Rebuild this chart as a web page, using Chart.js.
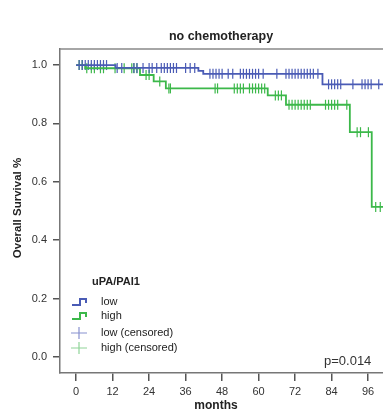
<!DOCTYPE html>
<html>
<head>
<meta charset="utf-8">
<script src="https://cdn.jsdelivr.net/npm/chart.js@4"></script>
<style>
  body { margin: 0; background: #fff; overflow: hidden; }
</style>
</head>
<body>
<canvas id="kmChart" width="383" height="409"></canvas>
<script>
// Kaplan-Meier steps (months, survival fraction)
const lowTimes = [0, 13, 40.2, 41.8, 81, 101];
const lowSurvival = [1.0, 0.990, 0.980, 0.970, 0.934, 0.934];
const highTimes = [0, 3, 21, 25.5, 29.5, 63, 69, 90, 97.2, 101];
const highSurvival = [1.0, 0.989, 0.966, 0.944, 0.920, 0.896, 0.864, 0.770, 0.514, 0.514];

// censored cases (months)
const lowCensored = [1, 2, 3, 4, 5, 6, 7, 8, 9, 10, 13.5, 15, 19, 20, 22, 24, 25, 26.5,
  28, 29, 30, 31, 32, 33, 36, 37.5, 39, 44, 45, 46, 47, 48, 50, 51.5, 54, 55, 56, 57, 58,
  59, 60, 61.5, 66, 69, 70, 71, 72, 73, 74, 75, 76, 77, 78, 79.5, 83, 84, 85, 86, 87, 91,
  94, 95, 96, 97, 99.5];
const highCensored = [1, 2, 3.5, 5, 6, 8, 9, 12.8, 15.8, 18.3, 19, 20, 23, 24, 27.5, 30.5, 31,
  45.7, 46.5, 52, 53, 54, 55, 57, 58, 59, 60, 61, 62, 65.5, 66.5, 67.5, 70, 71, 72, 73, 74,
  75, 76, 77, 82, 83, 84, 85, 86, 89, 92.4, 93.5, 96.1, 98.5, 100];

const xTickValues = [0, 12, 24, 36, 48, 60, 72, 84, 96];
const yTickValues = [0.0, 0.2, 0.4, 0.6, 0.8, 1.0];

const blue = '#4a5bb5';
const green = '#3cb84a';
const font = 'Liberation Sans, Arial, sans-serif';

// survival at time t for a step curve
function survivalAt(times, surv, t) {
    let s = surv[0];
    for (let i = 0; i < times.length; i++) {
        if (times[i] <= t) s = surv[i];
    }
    return s;
}

const lowSteps = lowTimes.map((t, i) => ({ x: t, y: lowSurvival[i] }));
const highSteps = highTimes.map((t, i) => ({ x: t, y: highSurvival[i] }));
const lowMarks = lowCensored.map(t => ({ x: t, y: survivalAt(lowTimes, lowSurvival, t) }));
const highMarks = highCensored.map(t => ({ x: t, y: survivalAt(highTimes, highSurvival, t) }));

// title, axis titles, legend box, p-value and top frame line
const decorations = {
    id: 'decorations',
    afterDraw(chart) {
        const ctx = chart.ctx;
        const area = chart.chartArea;
        ctx.save();

        ctx.strokeStyle = '#888';
        ctx.lineWidth = 1.5;
        ctx.beginPath();
        ctx.moveTo(area.left, area.top);
        ctx.lineTo(chart.width, area.top);
        ctx.stroke();

        ctx.fillStyle = '#222';
        ctx.textBaseline = 'middle';
        ctx.textAlign = 'center';
        ctx.font = 'bold 12.5px ' + font;
        ctx.fillText('no chemotherapy', 221, 37);

        ctx.font = 'bold 12px ' + font;
        ctx.fillText('months', 216, 406);

        ctx.save();
        ctx.translate(18, 208);
        ctx.rotate(-Math.PI / 2);
        ctx.font = 'bold 11.5px ' + font;
        ctx.fillText('Overall Survival %', 0, 0);
        ctx.restore();

        // legend
        ctx.textAlign = 'left';
        ctx.font = 'bold 11px ' + font;
        ctx.fillText('uPA/PAI1', 92, 282);

        ctx.font = '11px ' + font;
        const items = [
            { label: 'low', color: blue, y: 302, step: true },
            { label: 'high', color: green, y: 316, step: true },
            { label: 'low (censored)', color: '#8891cf', y: 333, step: false },
            { label: 'high (censored)', color: '#8fd498', y: 348, step: false }
        ];
        items.forEach(it => {
            ctx.strokeStyle = it.color;
            ctx.beginPath();
            if (it.step) {
                ctx.lineWidth = 2;
                ctx.moveTo(72, it.y + 3);
                ctx.lineTo(80, it.y + 3);
                ctx.lineTo(80, it.y - 3);
                ctx.lineTo(86, it.y - 3);
                ctx.lineTo(86, it.y + 1);
            } else {
                ctx.lineWidth = 1.2;
                ctx.moveTo(71, it.y);
                ctx.lineTo(87, it.y);
                ctx.moveTo(79, it.y - 6);
                ctx.lineTo(79, it.y + 6);
            }
            ctx.stroke();
            ctx.fillStyle = '#222';
            ctx.fillText(it.label, 101, it.y);
        });

        ctx.font = '13px ' + font;
        ctx.fillStyle = '#333';
        ctx.fillText('p=0.014', 324, 361);
        ctx.restore();
    }
};

const ctx = document.getElementById('kmChart').getContext('2d');

new Chart(ctx, {
    type: 'line',
    data: {
        datasets: [
            { data: lowSteps, borderColor: blue, borderWidth: 1.8, stepped: true, pointRadius: 0, fill: false },
            { data: highSteps, borderColor: green, borderWidth: 1.8, stepped: true, pointRadius: 0, fill: false },
            { data: lowMarks, showLine: false, pointStyle: 'line', rotation: 90, pointRadius: 5,
              borderColor: blue, borderWidth: 1.2 },
            { data: highMarks, showLine: false, pointStyle: 'line', rotation: 90, pointRadius: 5,
              borderColor: green, borderWidth: 1.2 }
        ]
    },
    options: {
        responsive: false,
        animation: false,
        events: [],
        layout: { autoPadding: false, padding: { top: 49, left: 0, right: 0, bottom: 0 } },
        plugins: {
            legend: { display: false },
            title: { display: false },
            tooltip: { enabled: false }
        },
        scales: {
            x: {
                type: 'linear',
                min: -5.3,
                max: 100.9,
                afterFit: scale => { scale.height = 36; },
                afterBuildTicks: scale => { scale.ticks = xTickValues.map(v => ({ value: v })); },
                grid: { drawOnChartArea: false, drawTicks: true, tickLength: 8, color: '#555', lineWidth: 1.5 },
                border: { display: true, color: '#777', width: 1.5 },
                ticks: { padding: 4, color: '#333', font: { family: font, size: 11 }, maxRotation: 0,
                         callback: v => String(v) }
            },
            y: {
                type: 'linear',
                min: -0.055,
                max: 1.055,
                afterFit: scale => { scale.width = 60; },
                afterBuildTicks: scale => { scale.ticks = yTickValues.map(v => ({ value: v })); },
                grid: { drawOnChartArea: false, drawTicks: true, tickLength: 7, color: '#555', lineWidth: 1.5 },
                border: { display: true, color: '#777', width: 1.5 },
                ticks: { padding: 6, color: '#333', font: { family: font, size: 11 },
                         callback: v => v.toFixed(1) }
            }
        }
    },
    plugins: [decorations]
});
</script>
</body>
</html>
